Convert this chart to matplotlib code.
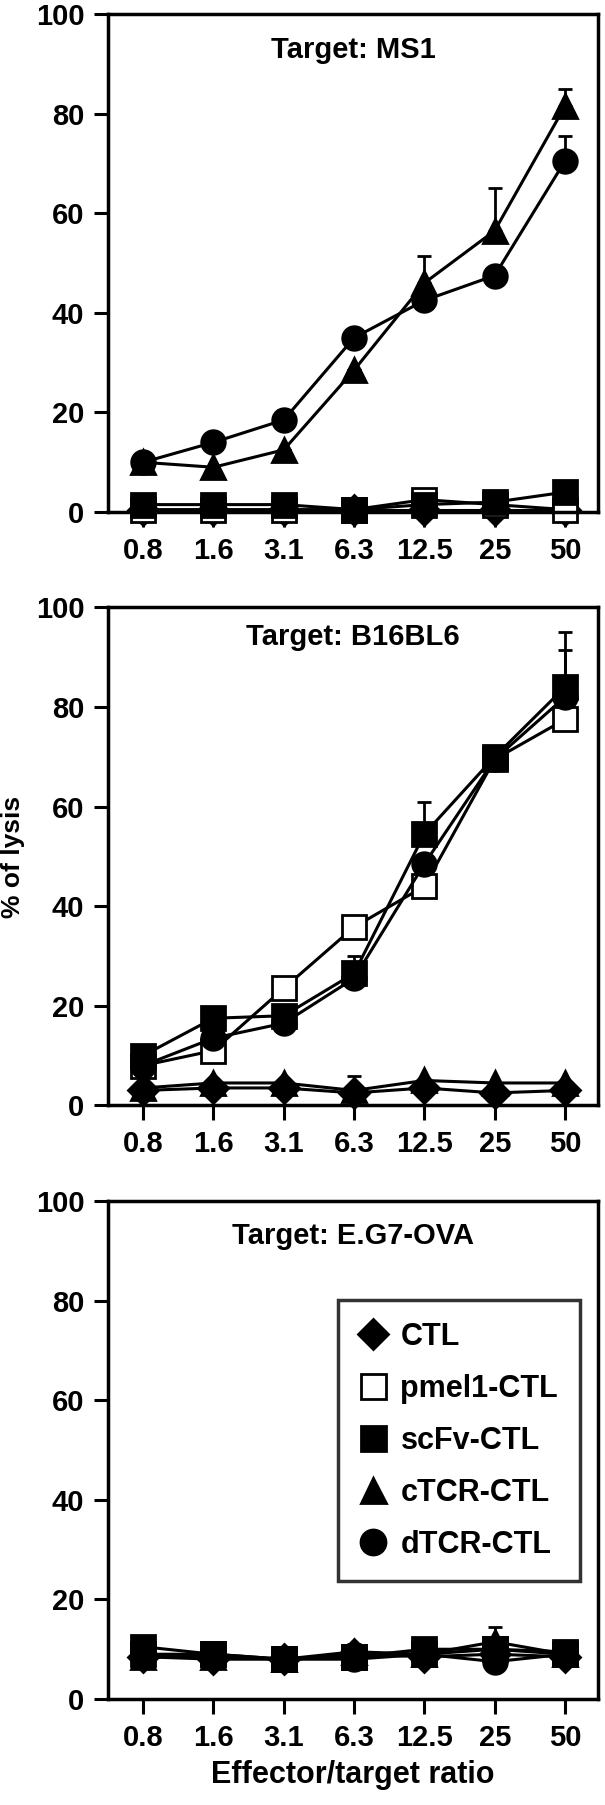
import numpy as np
import matplotlib
matplotlib.use("Agg")
import matplotlib.pyplot as plt

plt.rcParams['font.family'] = ['Liberation Sans', 'DejaVu Sans']
plt.rcParams['font.weight'] = 'bold'

ratios = ['0.8', '1.6', '3.1', '6.3', '12.5', '25', '50']
groups = ['CTL', 'pmel1-CTL', 'scFv-CTL', 'cTCR-CTL', 'dTCR-CTL']
markers = ['D', 's', 's', '^', 'o']
faces = ['black', 'white', 'black', 'black', 'black']

# Target: MS1
ms1_ctl = [0.5, 0.5, 0.5, 0.5, 0.5, 0.5, 0.5]
ms1_pmel = [0.5, 0.5, 0.5, 0.5, 2.5, 1.5, 0.5]
ms1_scfv = [1.5, 1.5, 1.5, 0.5, 1.5, 2.0, 4.0]
ms1_ctcr = [10.0, 9.0, 12.5, 28.5, 46.0, 56.5, 81.5]
ms1_dtcr = [10.0, 14.0, 18.5, 35.0, 42.5, 47.5, 70.5]
ms1_ctcr_err = [0, 0, 0, 0, 5.5, 8.5, 3.5]
ms1_dtcr_err = [0, 0, 2.0, 0, 0, 0, 5.0]

# Target: B16BL6
b16_ctl = [3.0, 3.5, 3.5, 2.5, 3.5, 2.5, 3.0]
b16_pmel = [8.0, 11.0, 23.5, 35.8, 44.0, 69.5, 77.5]
b16_scfv = [10.0, 17.5, 18.0, 26.5, 54.5, 70.0, 84.0]
b16_ctcr = [3.5, 4.5, 4.5, 3.0, 5.0, 4.5, 4.5]
b16_dtcr = [8.0, 13.5, 16.5, 25.5, 48.5, 69.5, 82.0]
b16_scfv_err = [0, 0, 0, 0, 6.5, 0, 11.0]
b16_ctcr_err = [0, 0, 0, 2.8, 0, 0, 0]
b16_dtcr_err = [0, 0, 0, 4.5, 0, 0, 9.5]

# Target: E.G7-OVA
eg7_ctl = [8.5, 8.0, 8.0, 9.0, 8.5, 9.0, 8.5]
eg7_pmel = [9.0, 9.0, 8.0, 8.5, 9.0, 10.0, 9.0]
eg7_scfv = [10.5, 9.0, 8.0, 8.5, 10.0, 10.0, 9.5]
eg7_ctcr = [8.5, 8.5, 8.0, 9.5, 9.0, 11.5, 9.0]
eg7_dtcr = [8.5, 8.5, 8.0, 8.0, 9.0, 7.5, 9.0]
eg7_ctcr_err = [0, 0, 0, 1.5, 0, 3.0, 0]

panels = [
    ('Target: MS1', [ms1_ctl, ms1_pmel, ms1_scfv, ms1_ctcr, ms1_dtcr],
     [None, None, None, ms1_ctcr_err, ms1_dtcr_err]),
    ('Target: B16BL6', [b16_ctl, b16_pmel, b16_scfv, b16_ctcr, b16_dtcr],
     [None, None, b16_scfv_err, b16_ctcr_err, b16_dtcr_err]),
    ('Target: E.G7-OVA', [eg7_ctl, eg7_pmel, eg7_scfv, eg7_ctcr, eg7_dtcr],
     [None, None, None, eg7_ctcr_err, None]),
]

fig = plt.figure(figsize=(6.05, 18.05), dpi=100)
rects = [[0.1785, 0.7163, 0.810, 0.2759],
         [0.1785, 0.3876, 0.810, 0.2759],
         [0.1785, 0.0587, 0.810, 0.2759]]
title_y = [0.928, 0.94, 0.93]

x = np.arange(len(ratios))
axes = []
for rect, ty, (title, series, errs) in zip(rects, title_y, panels):
    ax = fig.add_axes(rect)
    for vals, err, m, fc, name in zip(series, errs, markers, faces, groups):
        if err is not None:
            ax.errorbar(x, vals, yerr=[np.zeros(len(err)), err], fmt='none',
                        ecolor='black', elinewidth=2, capsize=5, capthick=2)
        ms = 15 if m == 'D' else 17
        ax.plot(x, vals, color='black', lw=2.2, marker=m, ms=ms,
                mfc=fc, mec='black', mew=2, label=name, clip_on=False)
    ax.set_xlim(-0.5, 6.47)
    ax.set_ylim(0, 100)
    ax.set_yticks([0, 20, 40, 60, 80, 100])
    ax.set_xticks(x)
    ax.set_xticklabels(ratios)
    ax.tick_params(axis='y', direction='out', length=10, width=2.2, labelsize=21, pad=7)
    ax.tick_params(axis='x', direction='out', length=11, width=2.2, labelsize=21, pad=7)
    for lab in ax.get_xticklabels() + ax.get_yticklabels():
        lab.set_fontweight('bold')
    for sp in ax.spines.values():
        sp.set_linewidth(2.5)
    ax.text(0.5, ty, title, transform=ax.transAxes, ha='center', va='center',
            fontsize=21, fontweight='bold')
    axes.append(ax)

fig.text(0.022, 0.525, '% of lysis', rotation=90, ha='center', va='center',
         fontsize=19, fontweight='bold')
axes[2].set_xlabel('Effector/target ratio', fontsize=22, fontweight='bold', labelpad=6)

handles = [plt.Line2D([], [], ls='none', marker=m, ms=(15 if m == 'D' else 18),
                      mfc=fc, mec='black', mew=2) for m, fc in zip(markers, faces)]
leg = axes[2].legend(handles, groups, loc='upper left', bbox_to_anchor=(0.469, 0.801),
                     fontsize=22, frameon=True, fancybox=False, edgecolor='black',
                     handlelength=0.9, handletextpad=0.45, labelspacing=0.72,
                     borderpad=0.7, borderaxespad=0)
leg.get_frame().set_linewidth(2.5)
for t in leg.get_texts():
    t.set_fontweight('bold')

fig.savefig('out.png', dpi=100)
